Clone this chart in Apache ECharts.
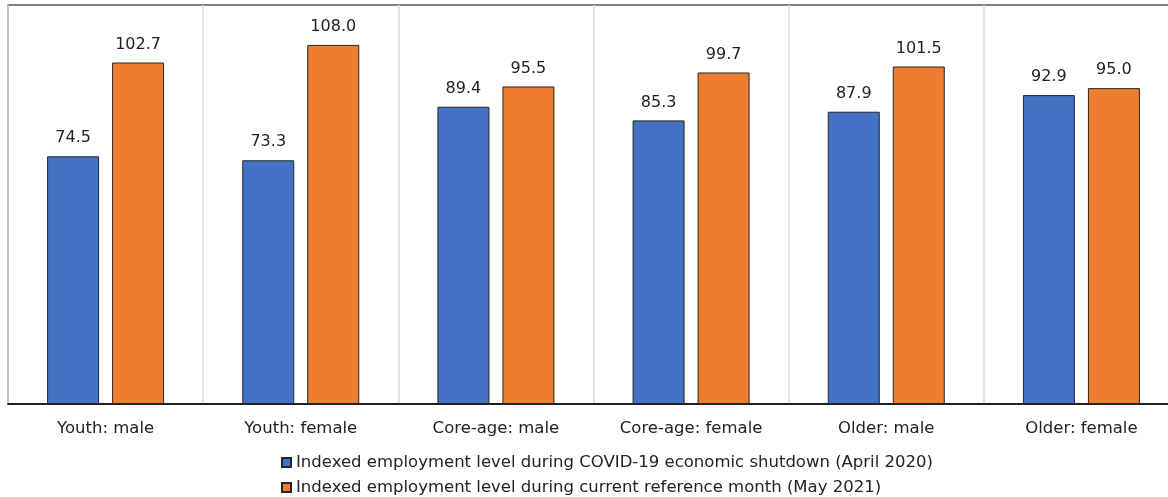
<!DOCTYPE html>
<html>
<head>
<meta charset="utf-8">
<script src="https://cdn.jsdelivr.net/npm/echarts@6/dist/echarts.min.js"></script>
<style>
  html, body { margin: 0; padding: 0; background: #fff; overflow: hidden; }
  #chart { width: 1179px; height: 497px; }
</style>
</head>
<body>
<div id="chart"></div>
<script>
const categories = ['Youth: male', 'Youth: female', 'Core-age: male', 'Core-age: female', 'Older: male', 'Older: female'];
const shutdownValues = [74.5, 73.3, 89.4, 85.3, 87.9, 92.9];
const currentValues = [102.7, 108.0, 95.5, 99.7, 101.5, 95.0];
const seriesNames = [
    'Indexed employment level during COVID-19 economic shutdown (April 2020)',
    'Indexed employment level during current reference month (May 2021)'
];

const font = '"DejaVu Sans", Verdana, sans-serif';
// chart is a bit wider than the window so the last category runs off the right edge
const chart = echarts.init(document.getElementById('chart'));

const barLabel = {
    show: true,
    position: 'top',
    distance: 10,
    color: '#222',
    fontSize: 16,
    fontFamily: font,
    formatter: (p) => p.value.toFixed(1)
};

chart.setOption({
    animation: false,
    grid: { left: 8, top: 5, right: 0, bottom: 93, show: true, borderColor: '#595959', borderWidth: 1.5 },
    legend: {
        orient: 'vertical',
        left: 276,
        top: 449,
        height: 48,
        itemWidth: 9,
        itemHeight: 9,
        itemGap: 8,
        icon: 'rect',
        textStyle: { color: '#222', fontSize: 16.5, fontFamily: font, lineHeight: 17 },
        data: seriesNames
    },
    xAxis: {
        type: 'category',
        data: categories,
        axisLine: { lineStyle: { color: '#000', width: 1.5 } },
        axisTick: { show: false },
        axisLabel: { color: '#222', fontSize: 16.5, fontFamily: font, margin: 16 },
        splitLine: { show: true, lineStyle: { color: '#d9d9d9', width: 1.5 } }
    },
    yAxis: {
        type: 'value',
        min: 0,
        max: 120,
        show: false,
        splitLine: { show: false }
    },
    series: [
        {
            name: seriesNames[0],
            type: 'bar',
            data: shutdownValues,
            barWidth: 52,
            barGap: '25%',
            itemStyle: { color: '#4472C4', borderColor: '#262626', borderWidth: 1 },
            label: barLabel
        },
        {
            name: seriesNames[1],
            type: 'bar',
            data: currentValues,
            barWidth: 52,
            itemStyle: { color: '#ED7D31', borderColor: '#262626', borderWidth: 1 },
            label: barLabel
        }
    ]
});
</script>
</body>
</html>
